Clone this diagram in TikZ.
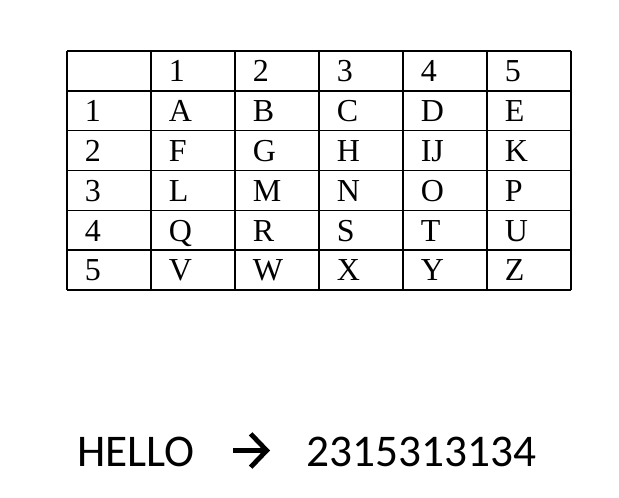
\documentclass[tikz,border=0pt]{standalone}
\usepackage{fontspec}
\setmainfont{Liberation Serif}
\newfontfamily\plainsans{Carlito}
\usetikzlibrary{arrows.meta}

\tikzset{
  grid line/.style = {black, line width = 1.2pt},
  cell/.style = {anchor = base west, inner sep = 0pt, font = \fontsize{24}{24}\selectfont},
  word/.style = {anchor = base west, inner sep = 0pt, text height = 24pt, text depth = 0pt, font = \plainsans\fontsize{34}{34}\selectfont},
  cipher arrow/.style = {line width = 3.6pt, -{Straight Barb[length = 12pt, width = 25pt]}, shorten < = 28.5pt, shorten > = 27pt}
}

\begin{document}
\begin{tikzpicture}[x = 0.75pt, y = -0.75pt]
\useasboundingbox (0, 0) rectangle (619, 498);

\foreach \i in {0, ..., 6} {
  \draw[grid line] (67 + 84*\i, 51) -- (67 + 84*\i, 290);
  \draw[grid line] (67, 51 + 39.83*\i) -- (571, 51 + 39.83*\i);
}

\foreach \n in {1, ..., 5} {
  \node[cell] (col\n) at (67 + 84*\n + 17.5, 51 + 39.83 - 9) {\n};
  \node[cell] (row\n) at (67 + 17.5, 51 + 39.83*\n + 39.83 - 9) {\n};
}

\foreach \letters [count = \r] in {{A,B,C,D,E}, {F,G,H,IJ,K}, {L,M,N,O,P}, {Q,R,S,T,U}, {V,W,X,Y,Z}}
  \foreach \l [count = \c] in \letters
    \node[cell] (\l) at (67 + 84*\c + 17.5, 51 + 39.83*\r + 39.83 - 9) {\l};

\node[word] (plain) at (77, 466.5) {HELLO};
\node[word] (cipher) at (306, 466.5) {2315313134};
\draw[cipher arrow] (plain) -- (cipher);
\end{tikzpicture}
\end{document}
